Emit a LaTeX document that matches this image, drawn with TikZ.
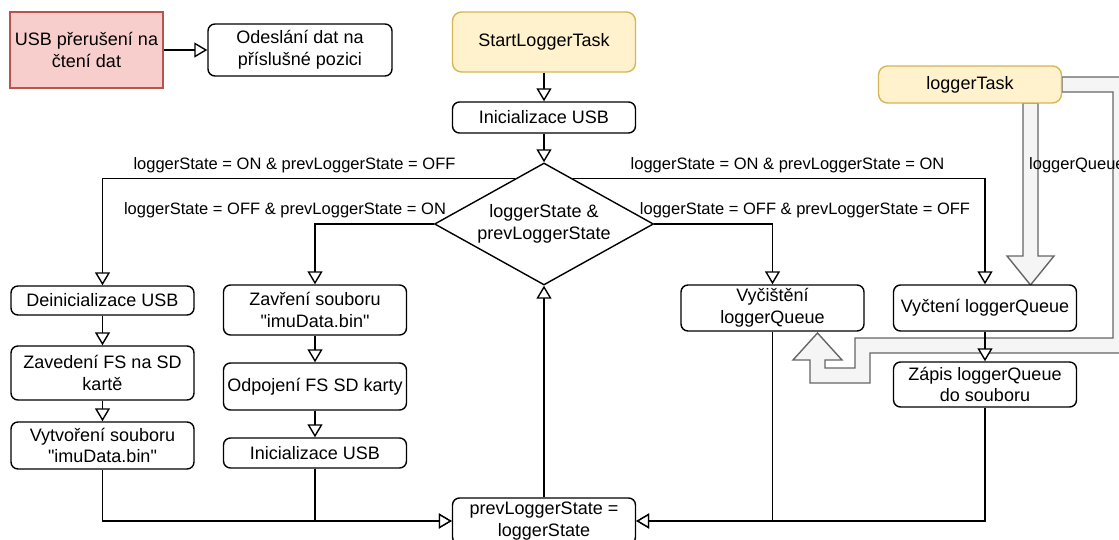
\documentclass[tikz,border=0pt]{standalone}
\usepackage{fontspec}
\setmainfont{Liberation Sans}[Ligatures=TeXOff]
\usetikzlibrary{arrows.meta,shapes.geometric,calc}
\definecolor{pinkfill}{HTML}{F8CECC}
\definecolor{pinkline}{HTML}{B85450}
\definecolor{yelfill}{HTML}{FFF2CC}
\definecolor{yelline}{HTML}{D6B656}
\definecolor{flexfill}{HTML}{F5F5F5}
\definecolor{flexline}{HTML}{666666}
\newcommand\nodefnt{\fontsize{18}{21.6}\selectfont}
\newcommand\labfnt{\fontsize{16.5}{19.8}\selectfont}
\begin{document}
\begin{tikzpicture}[x=1pt,y=-1pt,
  box/.style={draw, line width=1.4pt, rounded corners=7pt, minimum width=183pt, inner sep=0pt, align=center, font=\nodefnt, fill=white},
  pinkbox/.style={box, rounded corners=0pt, fill=pinkfill, draw=pinkline},
  yelbox/.style={box, rounded corners=9pt, fill=yelfill, draw=yelline},
  dia/.style={diamond, draw, line width=1.4pt, minimum width=219pt, minimum height=122pt, inner sep=0pt, fill=white},
  conn/.style={draw, line width=1.4pt, -{Triangle[length=13pt,width=15pt,fill=white]}},
  lab/.style={font=\labfnt, inner sep=0pt},
  txt/.style={font=\nodefnt, align=center, inner sep=0pt},
  flex/.style={draw=flexline, fill=flexfill, line width=1.4pt, line join=miter}]
\useasboundingbox (0,0) rectangle (1119,540);
\fill[white] (0,0) rectangle (1119,540);
\clip (0,0) rectangle (1119,540);

% big gray arrows
\path[flex] (1023,103) -- (1023,256) -- (1007,256) -- (1030.5,285) -- (1054,256) -- (1038,256) -- (1038,103) -- cycle;
\path[flex] (1062,77) -- (1128,77) -- (1128,353) -- (870,353) -- (870,383) -- (810,383) -- (810,360) -- (793,360) -- (817.5,333) -- (842,360) -- (825,360) -- (825,368) -- (855,368) -- (855,338) -- (1113,338) -- (1113,92) -- (1062,92) -- cycle;
\node[lab, anchor=west] (lq) at (1029,165) {loggerQueue};

% nodes
\node[pinkbox, minimum width=153pt, minimum height=76pt] (usbint) at (86.5,50) {USB přerušení na\\čtení dat};
\node[box, minimum width=184pt, minimum height=52pt] (odes) at (300,50) {Odeslání dat na\\příslušné pozici};
\node[yelbox, minimum height=60pt] (start) at (544,42) {StartLoggerTask};
\node[box, minimum height=31pt] (init) at (544,117.5) {Inicializace USB};
\node[dia] (dia) at (544,224) {};
\node[txt] (diatxt) at (dia.center) {loggerState \&\\prevLoggerState};
\node[box, minimum height=29pt] (deinit) at (102.5,300.5) {Deinicializace USB};
\node[box, minimum height=54pt] (zaved) at (102.5,373) {Zavedení FS na SD\\kartě};
\node[box, minimum height=47pt] (vytv) at (102.5,445.5) {Vytvoření souboru\\"imuData.bin"};
\node[box, minimum height=50pt] (zavr) at (315,310) {Zavření souboru\\"imuData.bin"};
\node[box, minimum height=47pt] (odpoj) at (315,386.5) {Odpojení FS SD karty};
\node[box, minimum height=30pt] (init2) at (315,453) {Inicializace USB};
\node[box, minimum height=46pt] (vycist) at (772.5,308) {Vyčištění\\loggerQueue};
\node[box, minimum height=46pt] (vyct) at (985,308) {Vyčtení loggerQueue};
\node[box, minimum height=45pt] (zapis) at (985,384.5) {Zápis loggerQueue\\do souboru};
\node[yelbox, minimum height=37pt] (logtask) at (970,84.5) {loggerTask};
\node[box, minimum height=46pt] (prev) at (544,521) {prevLoggerState =\\loggerState};

% labels
\node[lab] (l1) at (294.5,165) {loggerState = ON \& prevLoggerState = OFF};
\node[lab] (l2) at (285,210) {loggerState = OFF \& prevLoggerState = ON};
\node[lab] (l3) at (787.5,165) {loggerState = ON \& prevLoggerState = ON};
\node[lab] (l4) at (805,210) {loggerState = OFF \& prevLoggerState = OFF};

% connectors
\coordinate (dUL) at ($(dia.north)!0.262!(dia.west)$);
\coordinate (dUR) at ($(dia.north)!0.262!(dia.east)$);
\draw[conn] (usbint.east) -- (odes.west);
\draw[conn] (start) -- (init);
\draw[conn] (init) -- (dia);
\draw[conn] (dUL) -| (deinit.north);
\draw[conn] (dUR) -| (vyct.north);
\draw[conn] (dia.west) -| (zavr.north);
\draw[conn] (dia.east) -| (vycist.north);
\draw[conn] (deinit) -- (zaved);
\draw[conn] (zaved) -- (vytv);
\draw[conn] (zavr) -- (odpoj);
\draw[conn] (odpoj) -- (init2);
\draw[conn] (vyct) -- (zapis);
\draw[conn] (vytv.south) |- (prev.west);
\draw[conn] (init2.south) |- (prev.west);
\draw[conn] (vycist.south) |- (prev.east);
\draw[conn] (zapis.south) |- (prev.east);
\draw[conn] (prev.north) -- (dia.south);
\end{tikzpicture}
\end{document}
